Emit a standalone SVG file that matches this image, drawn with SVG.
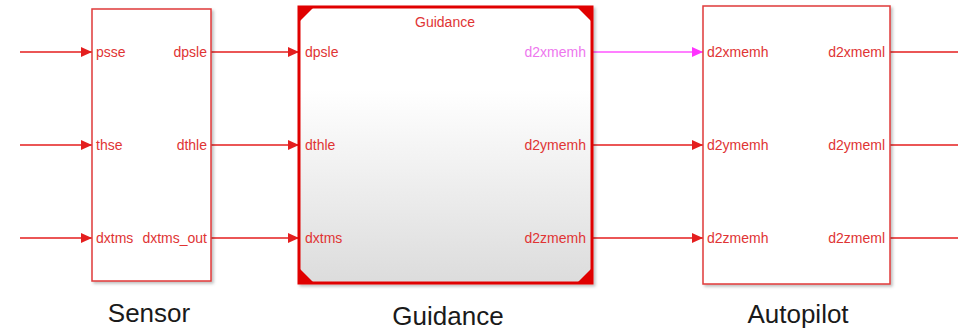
<svg xmlns="http://www.w3.org/2000/svg" width="958" height="331" viewBox="0 0 958 331">
<defs>
<linearGradient id="gg" x1="0" y1="0" x2="0" y2="1">
<stop offset="0" stop-color="#ffffff"/>
<stop offset="0.3" stop-color="#ffffff"/>
<stop offset="1" stop-color="#dcdcdc"/>
</linearGradient>
<filter id="sh" x="-5%" y="-5%" width="115%" height="115%">
<feDropShadow dx="2" dy="2" stdDeviation="1.5" flood-color="#000" flood-opacity="0.25"/>
</filter>
<marker id="ar" markerWidth="12" markerHeight="10" refX="11" refY="5" orient="auto" markerUnits="userSpaceOnUse">
<path d="M0,0 L11,5 L0,10 Z" fill="#e41e1e"/>
</marker>
<marker id="ap" markerWidth="12" markerHeight="10" refX="11" refY="5" orient="auto" markerUnits="userSpaceOnUse">
<path d="M0,0 L11,5 L0,10 Z" fill="#ff33ff"/>
</marker>
</defs>
<style>
.ln{stroke:#e41e1e;stroke-width:1.5;fill:none}
.pk{stroke:#ff55ff;stroke-width:1.5;fill:none}
.blk{fill:#ffffff;stroke:#e03a3a;stroke-width:1.5}
.pt{font-family:"Liberation Sans",Arial,sans-serif;font-size:14px;fill:#e03434}
.ptp{font-family:"Liberation Sans",Arial,sans-serif;font-size:14px;fill:#ee77ee}
.nm{font-family:"Liberation Sans",Arial,sans-serif;font-size:26px;fill:#1a1a1a}
.cr{fill:#e00000}
</style>
<g id="connectors">
<line class="ln" x1="20" y1="52" x2="92" y2="52" marker-end="url(#ar)"/>
<line class="ln" x1="20" y1="145" x2="92" y2="145" marker-end="url(#ar)"/>
<line class="ln" x1="20" y1="238" x2="92" y2="238" marker-end="url(#ar)"/>
<line class="ln" x1="211" y1="52" x2="299" y2="52" marker-end="url(#ar)"/>
<line class="ln" x1="211" y1="145" x2="299" y2="145" marker-end="url(#ar)"/>
<line class="ln" x1="211" y1="238" x2="299" y2="238" marker-end="url(#ar)"/>
<line class="pk" x1="592" y1="52" x2="703" y2="52" marker-end="url(#ap)"/>
<line class="ln" x1="592" y1="145" x2="703" y2="145" marker-end="url(#ar)"/>
<line class="ln" x1="592" y1="238" x2="703" y2="238" marker-end="url(#ar)"/>
<line class="ln" x1="890" y1="52" x2="958" y2="52"/>
<line class="ln" x1="890" y1="145" x2="958" y2="145"/>
<line class="ln" x1="890" y1="238" x2="958" y2="238"/>
</g>
<g id="sensor">
<rect class="blk" x="92" y="9" width="119" height="272" filter="url(#sh)"/>
<text class="pt" x="96" y="57">psse</text>
<text class="pt" x="96" y="150">thse</text>
<text class="pt" x="96" y="243">dxtms</text>
<text class="pt" x="207" y="57" text-anchor="end">dpsle</text>
<text class="pt" x="207" y="150" text-anchor="end">dthle</text>
<text class="pt" x="207" y="243" text-anchor="end">dxtms_out</text>
<text class="nm" x="149" y="322" text-anchor="middle">Sensor</text>
</g>
<g id="guidance">
<rect x="299" y="7" width="293" height="276" fill="url(#gg)" stroke="#e00000" stroke-width="3" filter="url(#sh)"/>
<path class="cr" d="M299,7 L314,7 L299,22 Z"/>
<path class="cr" d="M592,7 L577,7 L592,22 Z"/>
<path class="cr" d="M299,283 L314,283 L299,268 Z"/>
<path class="cr" d="M592,283 L577,283 L592,268 Z"/>
<text class="pt" x="445" y="27" text-anchor="middle">Guidance</text>
<text class="pt" x="305" y="57">dpsle</text>
<text class="pt" x="305" y="150">dthle</text>
<text class="pt" x="305" y="243">dxtms</text>
<text class="ptp" x="586" y="57" text-anchor="end">d2xmemh</text>
<text class="pt" x="586" y="150" text-anchor="end">d2ymemh</text>
<text class="pt" x="586" y="243" text-anchor="end">d2zmemh</text>
<text class="nm" x="448" y="325" text-anchor="middle">Guidance</text>
</g>
<g id="autopilot">
<rect class="blk" x="703" y="6" width="187" height="278" filter="url(#sh)"/>
<text class="pt" x="707" y="57">d2xmemh</text>
<text class="pt" x="707" y="150">d2ymemh</text>
<text class="pt" x="707" y="243">d2zmemh</text>
<text class="pt" x="885" y="57" text-anchor="end">d2xmeml</text>
<text class="pt" x="885" y="150" text-anchor="end">d2ymeml</text>
<text class="pt" x="885" y="243" text-anchor="end">d2zmeml</text>
<text class="nm" x="798" y="323" text-anchor="middle">Autopilot</text>
</g>
</svg>
